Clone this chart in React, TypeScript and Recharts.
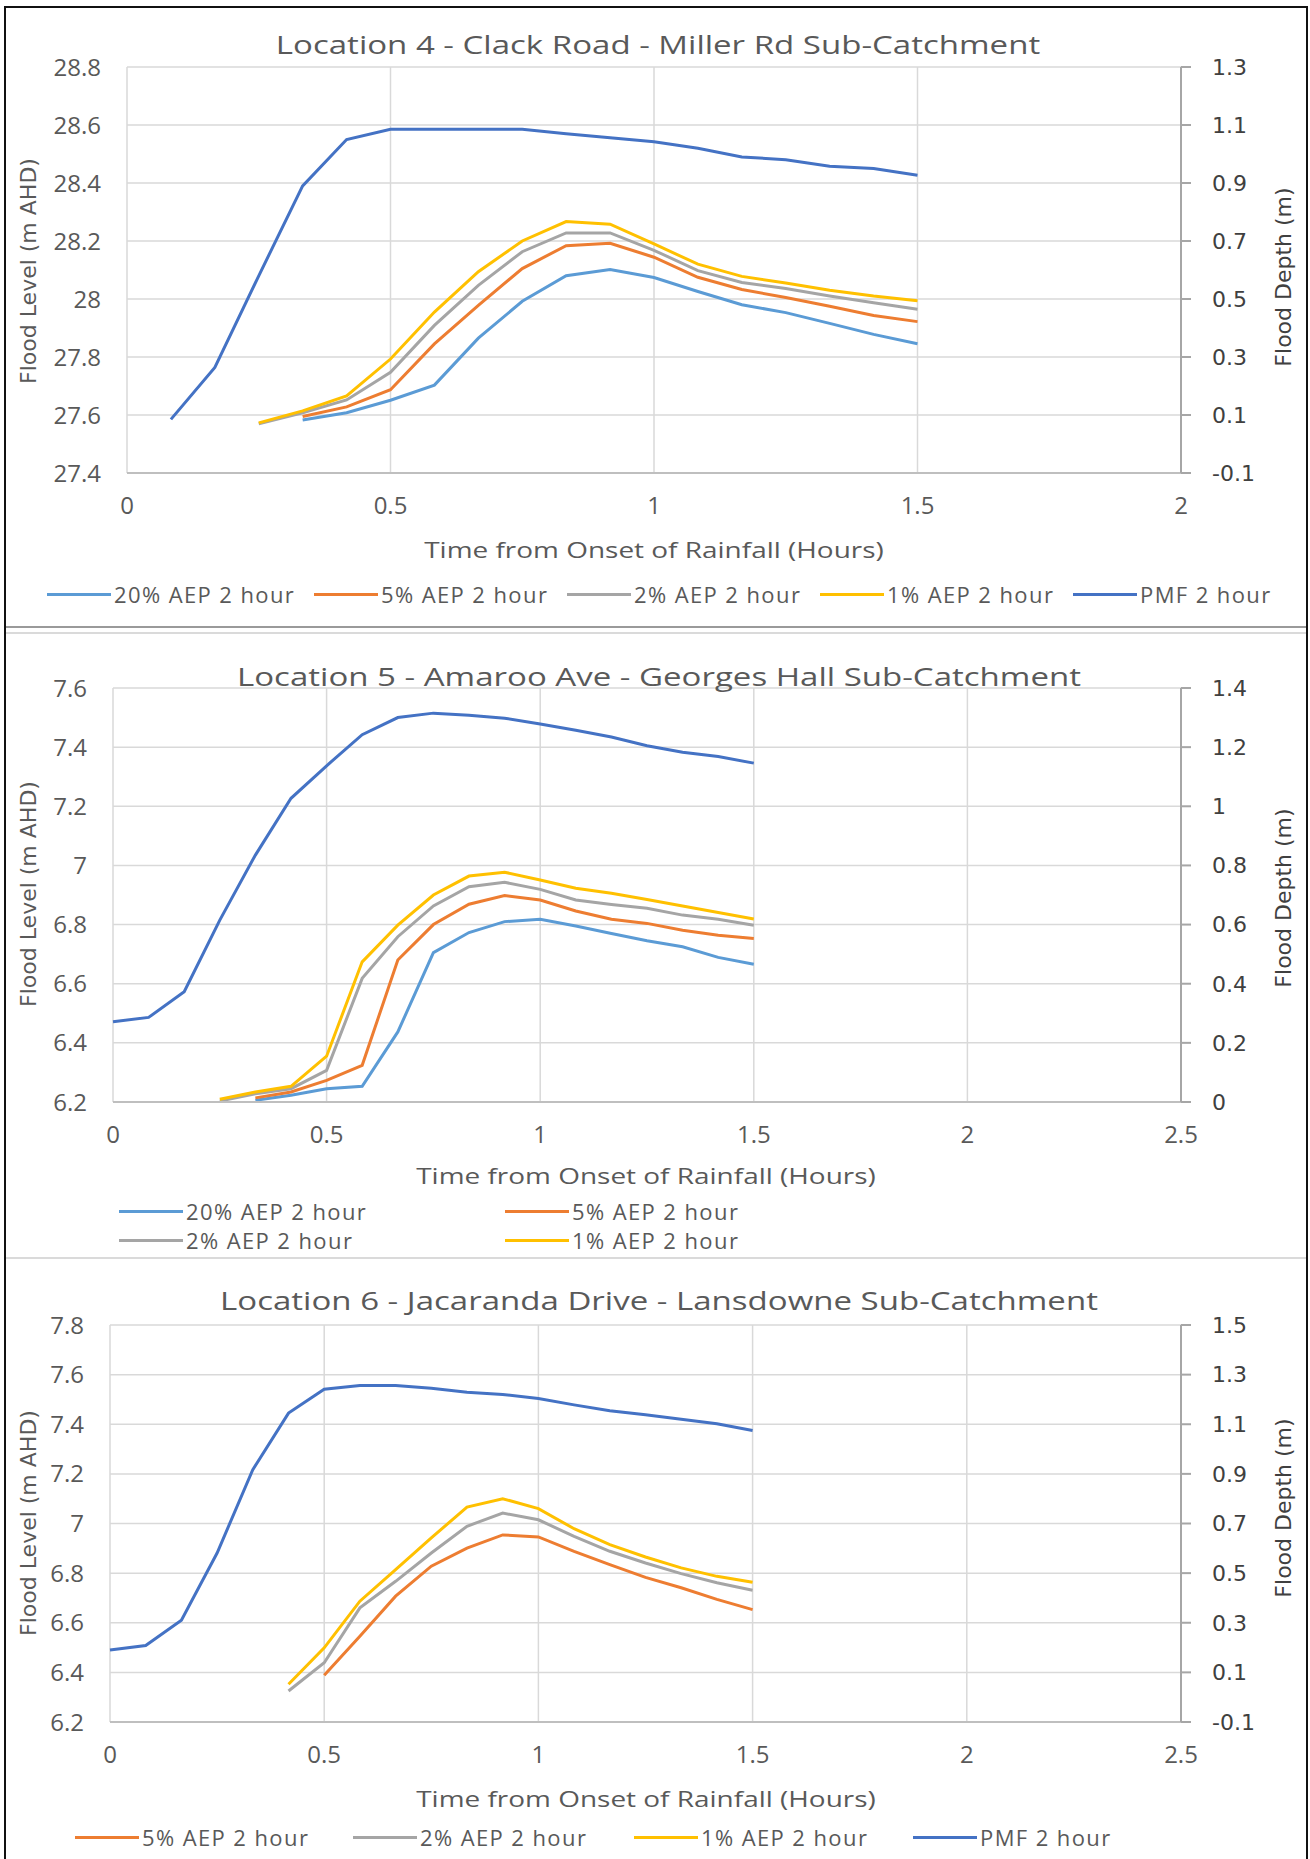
import { LineChart, Line, XAxis, YAxis, CartesianGrid } from 'recharts'

const SANS = '"Open Sans", "Noto Sans", sans-serif'
const DEJA = '"DejaVu Sans", sans-serif'
const GREY_TEXT = '#595959'
const DARK_TEXT = '#404040'

const C_20 = '#5B9BD5'
const C_5 = '#ED7D31'
const C_2 = '#A5A5A5'
const C_1 = '#FFC000'
const C_PMF = '#4472C4'

// ---- Location 4 ----
const loc4Time = [0.0833, 0.1667, 0.25, 0.3333, 0.4167, 0.5, 0.5833, 0.6667, 0.75, 0.8333, 0.9167, 1, 1.0833, 1.1667, 1.25, 1.3333, 1.4167, 1.5]
const loc4Aep20 = [null, null, null, 27.583, 27.608, 27.651, 27.703, 27.865, 27.992, 28.08, 28.102, 28.074, 28.026, 27.98, 27.953, 27.916, 27.878, 27.846]
const loc4Aep5 = [null, null, null, 27.595, 27.628, 27.687, 27.845, 27.978, 28.105, 28.184, 28.192, 28.144, 28.075, 28.033, 28.005, 27.975, 27.943, 27.922]
const loc4Aep2 = [null, null, 27.57, 27.608, 27.652, 27.747, 27.909, 28.047, 28.163, 28.228, 28.228, 28.168, 28.098, 28.057, 28.036, 28.01, 27.987, 27.965]
const loc4Aep1 = [null, null, 27.573, 27.614, 27.666, 27.793, 27.955, 28.094, 28.2, 28.267, 28.258, 28.19, 28.12, 28.078, 28.055, 28.03, 28.01, 27.994]
const loc4Pmf = [27.585, 27.764, 28.08, 28.39, 28.55, 28.585, 28.585, 28.585, 28.585, 28.57, 28.556, 28.542, 28.52, 28.49, 28.48, 28.458, 28.45, 28.427]
const loc4LevelTicks = [27.4, 27.6, 27.8, 28, 28.2, 28.4, 28.6, 28.8]
const loc4DepthTicks = [-0.1, 0.1, 0.3, 0.5, 0.7, 0.9, 1.1, 1.3]
const loc4TimeTicks = [0, 0.5, 1, 1.5, 2]

// ---- Location 5 ----
const loc5Time = [0, 0.0833, 0.1667, 0.25, 0.3333, 0.4167, 0.5, 0.5833, 0.6667, 0.75, 0.8333, 0.9167, 1, 1.0833, 1.1667, 1.25, 1.3333, 1.4167, 1.5]
const loc5Aep20 = [null, null, null, null, 6.206, 6.223, 6.245, 6.253, 6.437, 6.705, 6.773, 6.81, 6.818, 6.795, 6.77, 6.745, 6.725, 6.689, 6.666]
const loc5Aep5 = [null, null, null, null, 6.214, 6.234, 6.273, 6.324, 6.68, 6.8, 6.869, 6.898, 6.883, 6.846, 6.818, 6.804, 6.781, 6.764, 6.753]
const loc5Aep2 = [null, null, null, 6.203, 6.228, 6.245, 6.307, 6.618, 6.759, 6.863, 6.928, 6.943, 6.919, 6.883, 6.868, 6.855, 6.832, 6.818, 6.798]
const loc5Aep1 = [null, null, null, 6.209, 6.234, 6.253, 6.355, 6.674, 6.798, 6.9, 6.964, 6.977, 6.951, 6.923, 6.906, 6.885, 6.863, 6.841, 6.819]
const loc5Pmf = [6.471, 6.486, 6.573, 6.815, 7.035, 7.227, 7.337, 7.442, 7.5, 7.515, 7.508, 7.498, 7.478, 7.457, 7.434, 7.405, 7.383, 7.368, 7.346]
const loc5LevelTicks = [6.2, 6.4, 6.6, 6.8, 7, 7.2, 7.4, 7.6]
const loc5DepthTicks = [0, 0.2, 0.4, 0.6, 0.8, 1, 1.2, 1.4]
const loc5TimeTicks = [0, 0.5, 1, 1.5, 2, 2.5]

// ---- Location 6 ----
const loc6Time = [0, 0.0833, 0.1667, 0.25, 0.3333, 0.4167, 0.5, 0.5833, 0.6667, 0.75, 0.8333, 0.9167, 1, 1.0833, 1.1667, 1.25, 1.3333, 1.4167, 1.5]
const loc6Aep5 = [null, null, null, null, null, null, 6.388, 6.546, 6.707, 6.828, 6.901, 6.954, 6.946, 6.888, 6.834, 6.783, 6.741, 6.694, 6.653]
const loc6Aep2 = [null, null, null, null, null, 6.325, 6.439, 6.66, 6.767, 6.881, 6.989, 7.042, 7.015, 6.948, 6.888, 6.841, 6.798, 6.761, 6.731]
const loc6Aep1 = [null, null, null, null, null, 6.352, 6.499, 6.687, 6.814, 6.942, 7.066, 7.1, 7.06, 6.979, 6.915, 6.865, 6.821, 6.787, 6.763]
const loc6Pmf = [6.49, 6.508, 6.61, 6.881, 7.217, 7.445, 7.541, 7.556, 7.556, 7.545, 7.529, 7.52, 7.504, 7.478, 7.454, 7.438, 7.42, 7.402, 7.375]
const loc6LevelTicks = [6.2, 6.4, 6.6, 6.8, 7, 7.2, 7.4, 7.6, 7.8]
const loc6DepthTicks = [-0.1, 0.1, 0.3, 0.5, 0.7, 0.9, 1.1, 1.3, 1.5]
const loc6TimeTicks = [0, 0.5, 1, 1.5, 2, 2.5]

type Series = { name: string; color: string; values: (number | null)[] }
type LegendItem = { name: string; color: string; x: number; y: number }

interface PanelCfg {
  top: number
  height: number
  title: string
  titleY: number
  titleX: number
  plotLeft: number
  plotTop: number
  plotBottom: number
  times: number[]
  series: Series[]
  levelTicks: number[]
  depthTicks: number[]
  timeTicks: number[]
  xTitleX: number
  xTitleY: number
  leftTitleY: number
  rightTitleY: number
  legend: LegendItem[]
}

const PLOT_RIGHT = 1181
const AXIS_W = 60
const XAXIS_H = 40
// the source picture is stretched sideways, so the text is too
const STRETCH = 1.27

function Panel({ cfg }: { cfg: PanelCfg }) {
  const data = cfg.times.map((t, i) => {
    const row: any = { t }
    cfg.series.forEach(s => { row[s.name] = s.values[i] })
    return row
  })
  const lt = cfg.levelTicks
  const dt = cfg.depthTicks
  const xt = cfg.timeTicks
  return (
    <div style={{ position: 'absolute', left: 0, top: cfg.top, width: 1310, height: cfg.height }}>
      <LineChart
        width={1310}
        height={cfg.height}
        data={data}
        margin={{
          top: cfg.plotTop,
          right: 1310 - PLOT_RIGHT - AXIS_W,
          bottom: cfg.height - cfg.plotBottom - XAXIS_H,
          left: cfg.plotLeft - AXIS_W,
        }}
      >
        <CartesianGrid yAxisId="l" stroke="#D9D9D9" strokeWidth={1.5} />
        <XAxis
          dataKey="t"
          type="number"
          domain={[xt[0], xt[xt.length - 1]]}
          ticks={xt}
          interval={0}
          height={XAXIS_H}
          axisLine={{ stroke: '#BFBFBF', strokeWidth: 2 }}
          tickLine={false}
          tickSize={0}
          tickMargin={24}
          tick={{ fill: GREY_TEXT, fontSize: 24, fontFamily: SANS }}
        />
        <YAxis
          yAxisId="l"
          type="number"
          domain={[lt[0], lt[lt.length - 1]]}
          ticks={lt}
          interval={0}
          width={AXIS_W}
          axisLine={false}
          tickLine={false}
          tickSize={0}
          tickMargin={26}
          tick={{ fill: GREY_TEXT, fontSize: 24, fontFamily: SANS }}
        />
        <YAxis
          yAxisId="r"
          orientation="right"
          type="number"
          domain={[dt[0], dt[dt.length - 1]]}
          allowDataOverflow
          ticks={dt}
          interval={0}
          width={AXIS_W}
          axisLine={{ stroke: '#A6A6A6', strokeWidth: 2 }}
          tickLine={{ stroke: '#A6A6A6', strokeWidth: 2 }}
          tickSize={10}
          tickMargin={21}
          tick={{ fill: DARK_TEXT, fontSize: 22, fontFamily: DEJA }}
        />
        {cfg.series.map(s => (
          <Line
            key={s.name}
            yAxisId="l"
            type="linear"
            dataKey={s.name}
            stroke={s.color}
            strokeWidth={3}
            dot={false}
            activeDot={false}
            connectNulls={false}
            isAnimationActive={false}
          />
        ))}
      </LineChart>

      <div style={{
        position: 'absolute', left: cfg.titleX, top: cfg.titleY,
        transform: `translate(-50%, -50%) scaleX(${STRETCH})`,
        whiteSpace: 'nowrap', fontFamily: SANS, fontSize: 26, color: GREY_TEXT,
      }}>{cfg.title}</div>

      <div style={{
        position: 'absolute', left: cfg.xTitleX, top: cfg.xTitleY,
        transform: `translate(-50%, -50%) scaleX(${STRETCH})`,
        whiteSpace: 'nowrap', fontFamily: SANS, fontSize: 22, color: GREY_TEXT,
      }}>Time from Onset of Rainfall (Hours)</div>

      <div style={{
        position: 'absolute', left: 28, top: cfg.leftTitleY, transform: 'translate(-50%, -50%) rotate(-90deg)',
        whiteSpace: 'nowrap', fontFamily: DEJA, fontSize: 22, color: GREY_TEXT,
      }}>Flood Level (m AHD)</div>

      <div style={{
        position: 'absolute', left: 1283, top: cfg.rightTitleY, transform: 'translate(-50%, -50%) rotate(-90deg)',
        whiteSpace: 'nowrap', fontFamily: DEJA, fontSize: 22, color: DARK_TEXT,
      }}>Flood Depth (m)</div>

      {cfg.legend.map(it => (
        <div key={it.name} style={{
          position: 'absolute', left: it.x, top: it.y, transform: 'translateY(-50%)',
          display: 'flex', alignItems: 'center', whiteSpace: 'nowrap',
        }}>
          <div style={{ width: 64, height: 3, background: it.color, marginRight: 3 }} />
          <span style={{ fontFamily: SANS, fontSize: 22, letterSpacing: 1.4, color: GREY_TEXT }}>{it.name}</span>
        </div>
      ))}
    </div>
  )
}

const S20 = '20% AEP 2 hour'
const S5 = '5% AEP 2 hour'
const S2 = '2% AEP 2 hour'
const S1 = '1% AEP 2 hour'
const SPMF = 'PMF 2 hour'

const panel4: PanelCfg = {
  top: 0,
  height: 625,
  title: 'Location 4 - Clack Road - Miller Rd Sub-Catchment',
  titleX: 658,
  titleY: 44,
  plotLeft: 127,
  plotTop: 67,
  plotBottom: 473,
  times: loc4Time,
  series: [
    { name: S20, color: C_20, values: loc4Aep20 },
    { name: S5, color: C_5, values: loc4Aep5 },
    { name: S2, color: C_2, values: loc4Aep2 },
    { name: S1, color: C_1, values: loc4Aep1 },
    { name: SPMF, color: C_PMF, values: loc4Pmf },
  ],
  levelTicks: loc4LevelTicks,
  depthTicks: loc4DepthTicks,
  timeTicks: loc4TimeTicks,
  xTitleX: 654,
  xTitleY: 549,
  leftTitleY: 271,
  rightTitleY: 277,
  legend: [
    { name: S20, color: C_20, x: 47, y: 594 },
    { name: S5, color: C_5, x: 314, y: 594 },
    { name: S2, color: C_2, x: 567, y: 594 },
    { name: S1, color: C_1, x: 820, y: 594 },
    { name: SPMF, color: C_PMF, x: 1073, y: 594 },
  ],
}

const panel5: PanelCfg = {
  top: 630,
  height: 627,
  title: 'Location 5 - Amaroo Ave - Georges Hall Sub-Catchment',
  titleX: 659,
  titleY: 46,
  plotLeft: 113,
  plotTop: 58,
  plotBottom: 472,
  times: loc5Time,
  series: [
    { name: S20, color: C_20, values: loc5Aep20 },
    { name: S5, color: C_5, values: loc5Aep5 },
    { name: S2, color: C_2, values: loc5Aep2 },
    { name: S1, color: C_1, values: loc5Aep1 },
    { name: SPMF, color: C_PMF, values: loc5Pmf },
  ],
  levelTicks: loc5LevelTicks,
  depthTicks: loc5DepthTicks,
  timeTicks: loc5TimeTicks,
  xTitleX: 646,
  xTitleY: 545,
  leftTitleY: 264,
  rightTitleY: 268,
  legend: [
    { name: S20, color: C_20, x: 119, y: 581 },
    { name: S5, color: C_5, x: 505, y: 581 },
    { name: S2, color: C_2, x: 119, y: 610 },
    { name: S1, color: C_1, x: 505, y: 610 },
  ],
}

const panel6: PanelCfg = {
  top: 1259,
  height: 600,
  title: 'Location 6 - Jacaranda Drive - Lansdowne Sub-Catchment',
  titleX: 659,
  titleY: 41,
  plotLeft: 110,
  plotTop: 66,
  plotBottom: 463,
  times: loc6Time,
  series: [
    { name: S5, color: C_5, values: loc6Aep5 },
    { name: S2, color: C_2, values: loc6Aep2 },
    { name: S1, color: C_1, values: loc6Aep1 },
    { name: SPMF, color: C_PMF, values: loc6Pmf },
  ],
  levelTicks: loc6LevelTicks,
  depthTicks: loc6DepthTicks,
  timeTicks: loc6TimeTicks,
  xTitleX: 646,
  xTitleY: 539,
  leftTitleY: 264,
  rightTitleY: 249,
  legend: [
    { name: S5, color: C_5, x: 75, y: 578 },
    { name: S2, color: C_2, x: 353, y: 578 },
    { name: S1, color: C_1, x: 634, y: 578 },
    { name: SPMF, color: C_PMF, x: 913, y: 578 },
  ],
}

export default function App() {
  return (
    <div style={{ position: 'absolute', left: 0, top: 0, width: 1310, height: 1859, overflow: 'hidden', background: '#fff' }}>
      <Panel cfg={panel4} />
      <Panel cfg={panel5} />
      <Panel cfg={panel6} />
      <div style={{ position: 'absolute', left: 5, top: 626, width: 1302, height: 2, background: '#9A9A9A' }} />
      <div style={{ position: 'absolute', left: 5, top: 632, width: 1302, height: 2, background: '#DADADA' }} />
      <div style={{ position: 'absolute', left: 5, top: 1257, width: 1302, height: 2, background: '#DADADA' }} />
      <div style={{
        position: 'absolute', left: 4, top: 6, width: 1304, height: 1900,
        border: '2px solid #111', boxSizing: 'border-box', pointerEvents: 'none',
      }} />
    </div>
  )
}
